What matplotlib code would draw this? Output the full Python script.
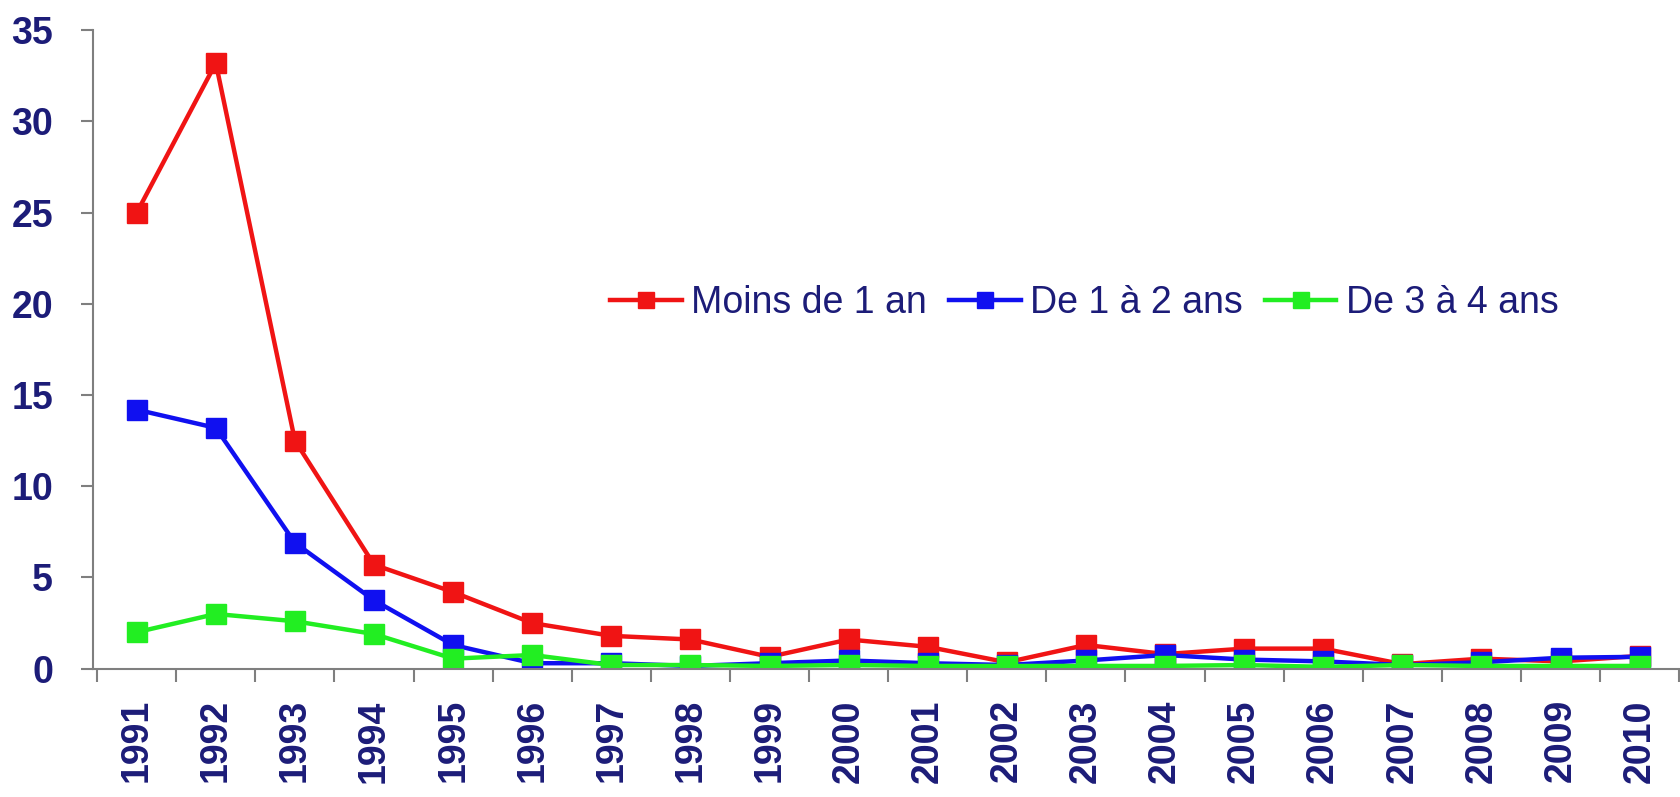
import matplotlib
matplotlib.use("Agg")
from matplotlib import pyplot as plt
import numpy as np

years = [str(y) for y in range(1991, 2011)]

moins_1_an = [25.0, 33.2, 12.5, 5.7, 4.2, 2.5, 1.8, 1.6, 0.65, 1.6,
              1.2, 0.35, 1.3, 0.8, 1.1, 1.1, 0.25, 0.55, 0.4, 0.7]
de_1_a_2 = [14.2, 13.2, 6.9, 3.75, 1.3, 0.3, 0.3, 0.15, 0.3, 0.45,
            0.3, 0.2, 0.45, 0.75, 0.5, 0.4, 0.2, 0.35, 0.6, 0.65]
de_3_a_4 = [2.0, 3.0, 2.6, 1.9, 0.55, 0.75, 0.2, 0.2, 0.15, 0.2,
            0.15, 0.15, 0.15, 0.15, 0.2, 0.1, 0.2, 0.15, 0.15, 0.15]

plt.rcParams['font.family'] = ['Liberation Sans', 'DejaVu Sans']
navy = '#1c1c78'

fig = plt.figure(figsize=(16.8, 7.97), dpi=100)
ax = fig.add_axes([0.0555, 0.161, 0.944, 0.801])

x = np.arange(len(years))
ax.plot(x, moins_1_an, color='#f01414', lw=3.2, marker='s', ms=14, label='Moins de 1 an')
ax.plot(x, de_1_a_2, color='#1010f0', lw=3.2, marker='s', ms=14, label='De 1 à 2 ans')
ax.plot(x, de_3_a_4, color='#22ee22', lw=3.2, marker='s', ms=14, label='De 3 à 4 ans')

ax.set_xlim(-0.55, 19.5)
ax.set_ylim(0, 35)
ax.set_yticks(range(0, 36, 5))
ax.set_xticks(x)
ax.set_xticklabels(years, rotation=90)
ax.set_xticks(np.arange(-0.5, 20, 1), minor=True)

for s in ['top', 'right']:
    ax.spines[s].set_visible(False)
for s in ['left', 'bottom']:
    ax.spines[s].set_color('#7f7f7f')
    ax.spines[s].set_linewidth(1.5)

ax.tick_params(axis='x', which='major', length=0, pad=22, labelsize=27, labelcolor=navy)
ax.tick_params(axis='x', which='minor', length=9, width=1.5, color='#7f7f7f')
ax.tick_params(axis='y', length=9, width=1.5, color='#7f7f7f', pad=20, labelsize=27, labelcolor=navy)
for lab in ax.get_xticklabels() + ax.get_yticklabels():
    lab.set_fontweight('bold')

leg = ax.legend(loc='center', bbox_to_anchor=(0.625, 0.573), ncol=3, frameon=False,
                fontsize=27, handlelength=1.9, handletextpad=0.25, columnspacing=0.6,
                markerscale=0.85)
for t in leg.get_texts():
    t.set_color(navy)

fig.savefig('out.png', dpi=100)
